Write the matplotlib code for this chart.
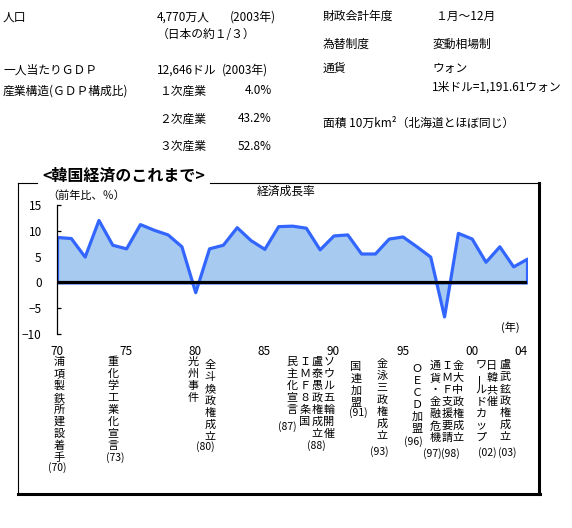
import matplotlib
matplotlib.use("Agg")
import matplotlib.pyplot as plt
from matplotlib.lines import Line2D

plt.rcParams['font.family'] = ['Noto Sans CJK JP', 'DejaVu Sans']

# GDP growth (前年比, %)
years = list(range(1970, 2005))
growth = [8.8, 8.6, 5.0, 12.1, 7.3, 6.6, 11.3, 10.2, 9.3, 7.0,
          -1.9, 6.6, 7.3, 10.7, 8.2, 6.5, 10.9, 11.0, 10.6, 6.4,
          9.1, 9.3, 5.6, 5.6, 8.5, 8.9, 7.0, 5.0, -6.6, 9.6,
          8.5, 4.0, 7.0, 3.1, 4.6]

xtick_pos = [1970, 1975, 1980, 1985, 1990, 1995, 2000, 2004]
xtick_labels = ['70', '75', '80', '85', '90', '95', '00', '04']
ytick_pos = [-10, -5, 0, 5, 10, 15]

events = ['浦項製鉄所建設着手', '重化学工業化宣言', '光州事件', '全斗煥政権成立',
          '民主化宣言', 'ＩＭＦ８条国', '盧泰愚政権成立', 'ソウル五輪開催',
          '国連加盟', '金泳三政権成立', 'ＯＥＣＤ加盟', '通貨・金融危機',
          'ＩＭＦ支援要請', '金大中政権成立', 'ワールドカップ', '日韓共催',
          '盧武鉉政権成立']
event_tags = ['(70)', '(73)', '(80)', '(87)', '(88)', '(91)', '(93)',
              '(96)', '(97)', '(98)', '(02)', '(03)']

W, H = 572, 528
fig = plt.figure(figsize=(W / 100, H / 100), dpi=100)


def fx(x):
    return x / W


def fy(y):
    return 1 - y / H


def ftext(x, y, s, size=8.5, ha='left', **kw):
    fig.text(fx(x), fy(y), s, fontsize=size, ha=ha, va='center', **kw)


# --- header info ---
ftext(3, 17, '人口')
ftext(157, 17, '4,770万人')
ftext(230, 17, '(2003年)')
ftext(157, 35, '（日本の約１/３）')
ftext(3, 70, '一人当たりＧＤＰ')
ftext(157, 70, '12,646ドル')
ftext(222, 70, '(2003年)')
ftext(3, 91, '産業構造(ＧＤＰ構成比)')
ftext(159, 91, '１次産業')
ftext(272, 91, '4.0%', ha='right')
ftext(159, 119, '２次産業')
ftext(272, 119, '43.2%', ha='right')
ftext(159, 146, '３次産業')
ftext(272, 146, '52.8%', ha='right')

ftext(323, 16, '財政会計年度')
ftext(435, 16, '１月～12月')
ftext(323, 44, '為替制度')
ftext(432, 44, '変動相場制')
ftext(323, 68, '通貨')
ftext(432, 68, 'ウォン')
ftext(432, 87, '1米ドル=1,191.61ウォン')
ftext(323, 123, '面積 10万km²（北海道とほぼ同じ）')

# --- frame around chart ---
def fline(x0, y0, x1, y1, lw=0.8):
    fig.add_artist(Line2D([fx(x0), fx(x1)], [fy(y0), fy(y1)], color='black', lw=lw))


fline(18, 183, 37, 183)
fline(210, 183, 540, 183)
fline(18, 183, 18, 494)
fline(539, 183, 539, 494, lw=2.2)
fline(18, 494, 540, 494, lw=2.2)
ftext(124, 176, '<韓国経済のこれまで>', size=11.5, ha='center', fontweight='bold')

# --- chart ---
ax = fig.add_axes([fx(57), fy(334), (527 - 57) / W, (334 - 205) / H])
ax.fill_between(years, growth, 0, facecolor='#a6caf0', edgecolor='#3366ff',
                lw=2.3, zorder=2)
ax.axhline(0, color='black', lw=2.3, zorder=3)
ax.set_xlim(1970, 2004)
ax.set_ylim(-10, 15)
for s in ['top', 'right', 'bottom']:
    ax.spines[s].set_visible(False)
ax.spines['left'].set_linewidth(0.9)
ax.set_yticks(ytick_pos)
ax.tick_params(axis='y', direction='in', length=3, width=0.9, pad=11, labelsize=8.5)
ax.set_xticks(xtick_pos)
ax.set_xticklabels(xtick_labels)
ax.tick_params(axis='x', length=0, pad=8, labelsize=8.5)
ax.get_xticklabels()[-1].set_horizontalalignment('right')
ax.patch.set_alpha(0)

ftext(47, 196, '（前年比、％）', size=8)
ftext(286, 191, '経済成長率', size=8.5, ha='center')
ftext(510, 327, '(年)', size=8, ha='center')

# --- event columns (vertical text) ---
col_x = [59, 113, 193, 210, 292, 305, 317, 329, 356, 382, 417, 435, 447, 458, 481, 492, 505]
col_y = [362, 362, 362, 365, 362, 362, 362, 362, 367, 364, 369, 366, 366, 366, 366, 366, 365]
for s, x, y in zip(events, col_x, col_y):
    for i, ch in enumerate(s):
        rot = 90 if ch == 'ー' else 0
        ftext(x, y + i * 12, ch, size=8, ha='center', rotation=rot)

tag_x = [57, 115, 205, 287, 316, 358, 379, 413, 432, 450, 487, 507]
tag_y = [468, 458, 447, 427, 446, 413, 452, 442, 454, 454, 453, 453]
for s, x, y in zip(event_tags, tag_x, tag_y):
    ftext(x, y, s, size=7.5, ha='center')

fig.savefig('out.png', dpi=100)
